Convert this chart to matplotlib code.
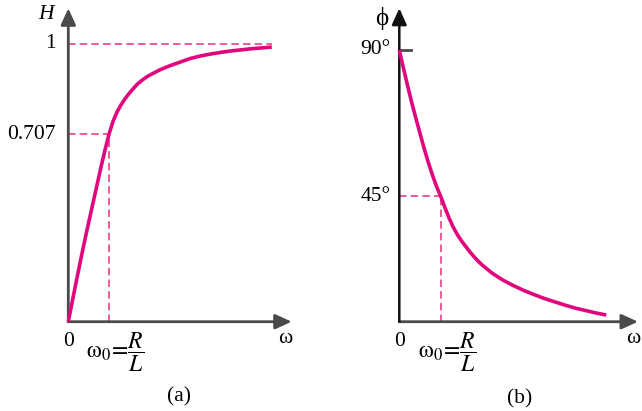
import matplotlib
matplotlib.use("Agg")
import matplotlib.pyplot as plt

plt.rcParams['mathtext.fontset'] = 'stix'
plt.rcParams['font.family'] = ['Liberation Serif', 'DejaVu Serif']

# ---- data (omega in units of omega0) ----
w_mag = [0, 0.1, 0.2, 0.3, 0.4, 0.5, 0.6, 0.7, 0.8, 0.9, 1.0, 1.1, 1.2, 1.3,
         1.4, 1.5, 1.6, 1.7, 1.8, 1.9, 2.0, 2.25, 2.5, 2.75, 3.0, 3.25, 3.5,
         3.75, 4.0, 4.25, 4.5, 4.75, 5.0]
H_mag = [0, 0.075, 0.148, 0.220, 0.290, 0.357, 0.423, 0.489, 0.555, 0.617,
         0.675, 0.722, 0.756, 0.782, 0.804, 0.823, 0.840, 0.856, 0.868, 0.879,
         0.888, 0.907, 0.922, 0.935, 0.948, 0.957, 0.964, 0.970, 0.975, 0.979,
         0.983, 0.986, 0.989]
H_at_w0 = 0.675
H_labels = ["0.707", "1"]

w_ph = [0, 0.1, 0.2, 0.3, 0.4, 0.5, 0.6, 0.7, 0.8, 0.9, 1.0, 1.1, 1.2, 1.3,
        1.4, 1.5, 1.6, 1.7, 1.8, 1.9, 2.0, 2.25, 2.5, 2.75, 3.0, 3.25, 3.5,
        3.75, 4.0, 4.25, 4.5, 4.75, 5.0]
phi = [90, 84.0, 78.2, 72.6, 67.4, 62.4, 57.4, 52.8, 48.6, 44.8, 41.5, 37.9,
       34.4, 31.4, 28.9, 26.8, 25.0, 23.2, 21.6, 20.1, 18.8, 16.0, 13.8, 12.0,
       10.4, 9.0, 7.7, 6.6, 5.5, 4.5, 3.7, 2.9, 2.2]
phi_at_w0 = 41.5
phi_labels = ["45°", "90°"]

W, Hpx = 642, 411
fig = plt.figure(figsize=(W / 100, Hpx / 100), dpi=100)

curve_c = '#e0077d'
dash_c = '#e8408a'
fs = 15.5
w0_label = r'$\mathrm{\omega}_0\!=\!\dfrac{R}{L}$'


def make_axes(ox, oy, sx, sy, xmax_px, ytop_px):
    # origin (ox, oy) in pixels from top-left; sx px per x unit; sy px per y unit
    left = ox / W
    bottom = (Hpx - oy) / Hpx
    width = (xmax_px - ox) / W
    height = (oy - ytop_px) / Hpx
    ax = fig.add_axes([left, bottom, width, height])
    ax.set_xlim(0, (xmax_px - ox) / sx)
    ax.set_ylim(0, (oy - ytop_px) / sy)
    ax.axis('off')
    return ax


def arrows(ax, col_x, col_y, lw_y=2.0):
    x1 = ax.get_xlim()[1]
    y1 = ax.get_ylim()[1]
    ax.annotate('', xy=(x1, 0), xytext=(0, 0), annotation_clip=False,
                arrowprops=dict(arrowstyle='-|>,head_length=0.55,head_width=0.25',
                                color=col_x, lw=2.0,
                                mutation_scale=18, shrinkA=0, shrinkB=0))
    ax.annotate('', xy=(0, y1), xytext=(0, 0), annotation_clip=False,
                arrowprops=dict(arrowstyle='-|>,head_length=0.55,head_width=0.25',
                                color=col_y, lw=lw_y,
                                mutation_scale=18, shrinkA=0, shrinkB=0))


dash = dict(color=dash_c, lw=1.2, ls=(0, (4.5, 2.5)), clip_on=False)

# ---------- panel (a) ----------
axa = make_axes(68.3, 321.7, 40.7, 277.7, 291.7, 8.3)
axa.plot([0, w_mag[-1]], [1, 1], **dash)
axa.plot([0, 1], [H_at_w0, H_at_w0], **dash)
axa.plot([1, 1], [0, H_at_w0], **dash)
arrows(axa, '#4a4a4a', '#4a4a4a')
axa.plot(w_mag, H_mag, color=curve_c, lw=2.6, clip_on=False,
         solid_capstyle='butt', zorder=5)
axa.text(-0.3, 1, H_labels[1], ha='right', va='center', fontsize=fs)
axa.text(-0.3, H_at_w0, H_labels[0], ha='right', va='center', fontsize=fs)
axa.text(-0.55, 1.105, 'H', ha='center', va='center', fontsize=fs, style='italic')
axa.text(0, -0.07, '0', ha='center', va='center', fontsize=fs)
axa.text(5.33, -0.06, 'ω', ha='center', va='center', fontsize=fs)
axa.text(1.15, -0.11, w0_label, ha='center', va='center', fontsize=17)
axa.text(2.73, -0.27, '(a)', ha='center', va='center', fontsize=fs)

# ---------- panel (b) ----------
axb = make_axes(399.3, 321.7, 41.4, 271.7 / 90, 638, 8.3)
axb.plot([0, 1], [phi_at_w0, phi_at_w0], **dash)
axb.plot([1, 1], [0, phi_at_w0], **dash)
arrows(axb, '#4a4a4a', '#111111', lw_y=1.8)
axb.plot([0, 0.28], [90, 90], color='#4a4a4a', lw=2.0, clip_on=False)
axb.plot(w_ph, phi, color=curve_c, lw=2.6, clip_on=False,
         solid_capstyle='butt', zorder=5)
axb.text(-0.22, 90, phi_labels[1], ha='right', va='center', fontsize=fs)
axb.text(-0.22, phi_at_w0, phi_labels[0], ha='right', va='center', fontsize=fs)
axb.text(-0.42, 100.5, 'ϕ', ha='center', va='center', fontsize=18)
axb.text(0, -6.5, '0', ha='center', va='center', fontsize=fs)
axb.text(5.65, -5.4, 'ω', ha='center', va='center', fontsize=fs)
axb.text(1.15, -10.2, w0_label, ha='center', va='center', fontsize=17)
axb.text(2.91, -25.6, '(b)', ha='center', va='center', fontsize=fs)

fig.savefig('out.png', dpi=100, facecolor='white')
